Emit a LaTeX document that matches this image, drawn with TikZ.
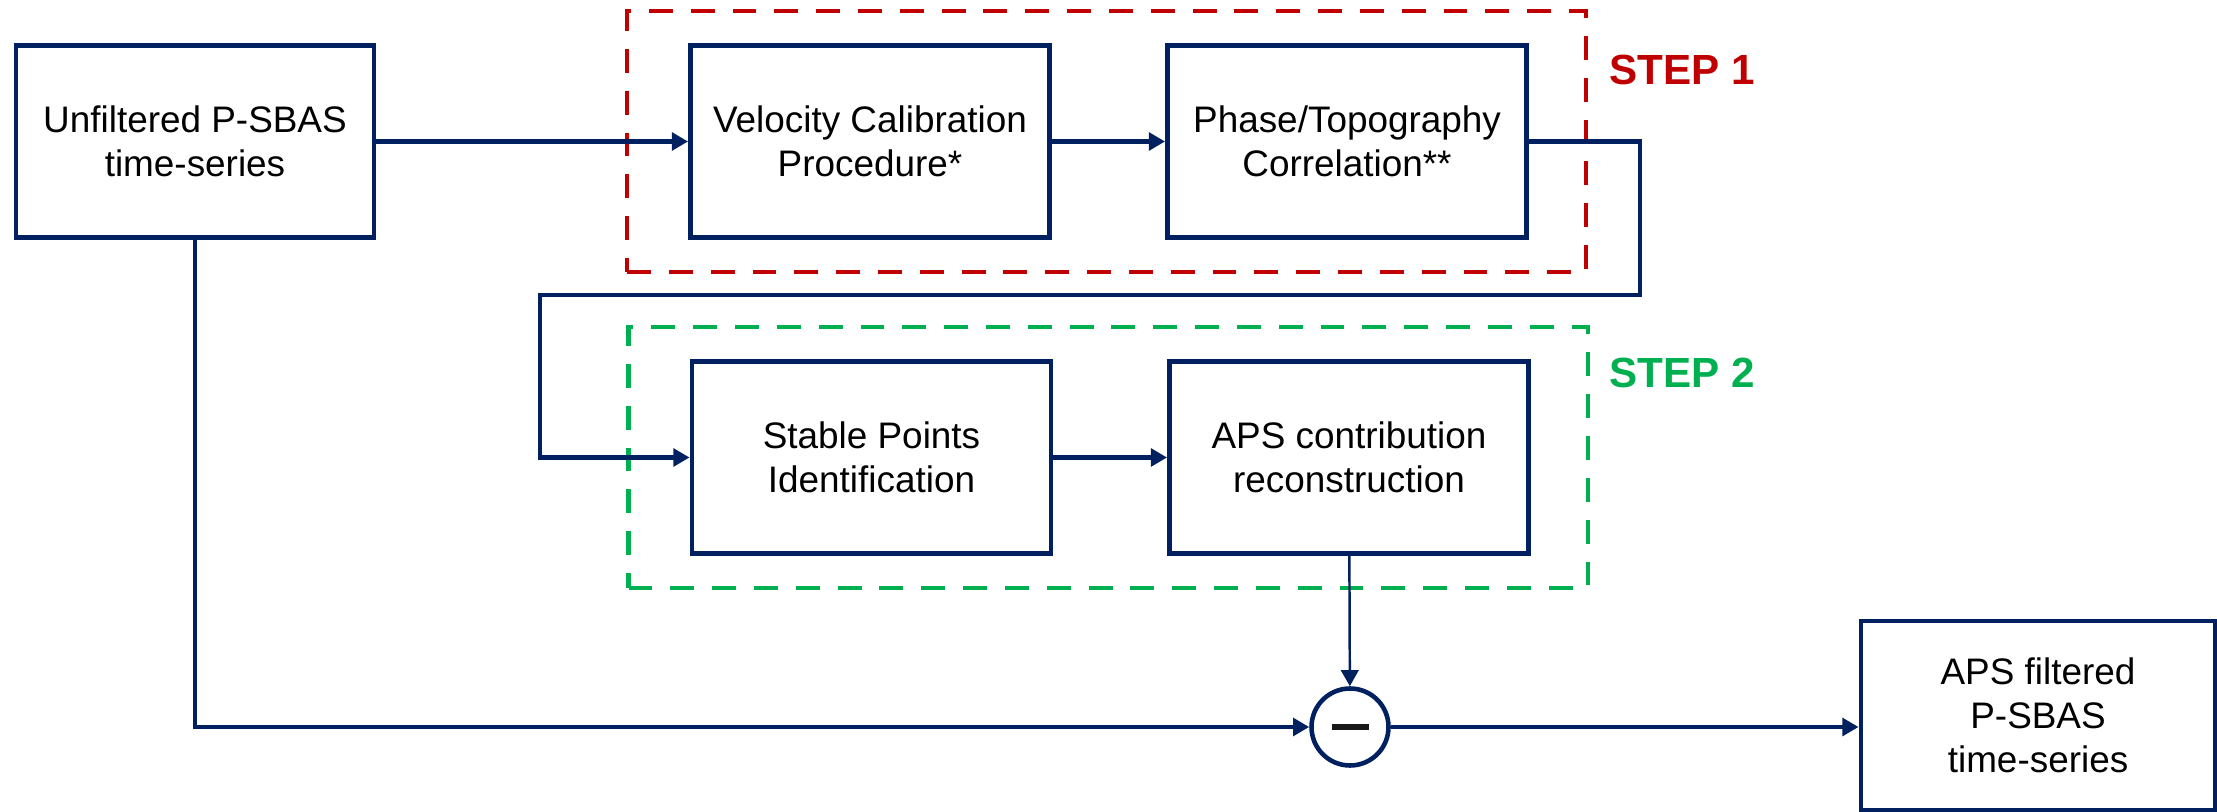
\documentclass[tikz,border=0pt]{standalone}
\usepackage{fontspec}
\setmainfont{Liberation Sans}
\usetikzlibrary{positioning, arrows.meta, calc, fit}
\definecolor{aps_navy}{RGB}{0, 32, 96}
\definecolor{step_red}{RGB}{192, 0, 0}
\definecolor{step_green}{RGB}{0, 176, 80}

\begin{document}
\begin{tikzpicture}[>={Triangle[length=4.6pt, width=5pt]}, font=\fontsize{10.5}{12.5}\selectfont,
      blk/.style={draw=aps_navy, line width=1.4pt, align=center, minimum width=3.59cm,
        minimum height=1.92cm, inner sep=2pt},
      wire/.style={draw=aps_navy, line width=1.35pt},
      thinwire/.style={draw=aps_navy, line width=0.7pt},
      frame/.style={line width=1.35pt, dash pattern=on 6.8pt off 5.1pt, inner xsep=0.59cm, inner ysep=0.32cm,
        xshift=-0.02cm},
      steplbl/.style={font=\fontsize{12}{14}\selectfont\bfseries, anchor=west, inner sep=0pt}]
    \useasboundingbox (0,0) rectangle (22.17,-8.12);
    \node[blk, minimum width=3.58cm] (src) at (1.95,-1.415) {Unfiltered P-SBAS\\ time-series};
    \node[blk] (vel) at (8.70,-1.415)  {Velocity Calibration\\ Procedure*};
    \node[blk] (pha) at (13.47,-1.415) {Phase/Topography\\ Correlation**};
    \node[blk] (stb) at (8.715,-4.575) {Stable Points\\ Identification};
    \node[blk] (aps) at (13.49,-4.575) {APS contribution\\ reconstruction};
    \node[circle, draw=aps_navy, line width=1.3pt, minimum size=0.77cm, inner sep=0pt, text=black!90]
      (minus) at (13.50,-7.27) {\rule{3.7mm}{0.6mm}};
    \node[blk, minimum width=3.54cm, minimum height=1.89cm] (out) at (20.38,-7.155)
      {APS filtered\\ P-SBAS\\ time-series};
    \node[frame, draw=step_red, fit=(vel) (pha)] (step1) {};
    \node[frame, draw=step_green, fit=(stb) (aps)] (step2) {};
    \node[steplbl, text=step_red] (lbl1) at (16.09,-0.70) {STEP 1};
    \node[steplbl, text=step_green] (lbl2) at (16.09,-3.73) {STEP 2};
    \coordinate (r1) at (16.40,-2.95);
    \coordinate (l1) at (5.40,-2.95);
    \foreach \x/\y in {src/vel, vel/pha, stb/aps} \draw[wire, ->] (\x) -- (\y);
    \draw[wire, ->] (pha.east) -| (r1) -- (l1) |- (stb.west);
    \draw[thinwire, ->] (aps) -- (minus);
    \draw[wire, ->] (src.south) |- (minus.west);
    \draw[wire, ->] (minus.east) -- (minus.east -| out.west);
  \end{tikzpicture}
\end{document}
